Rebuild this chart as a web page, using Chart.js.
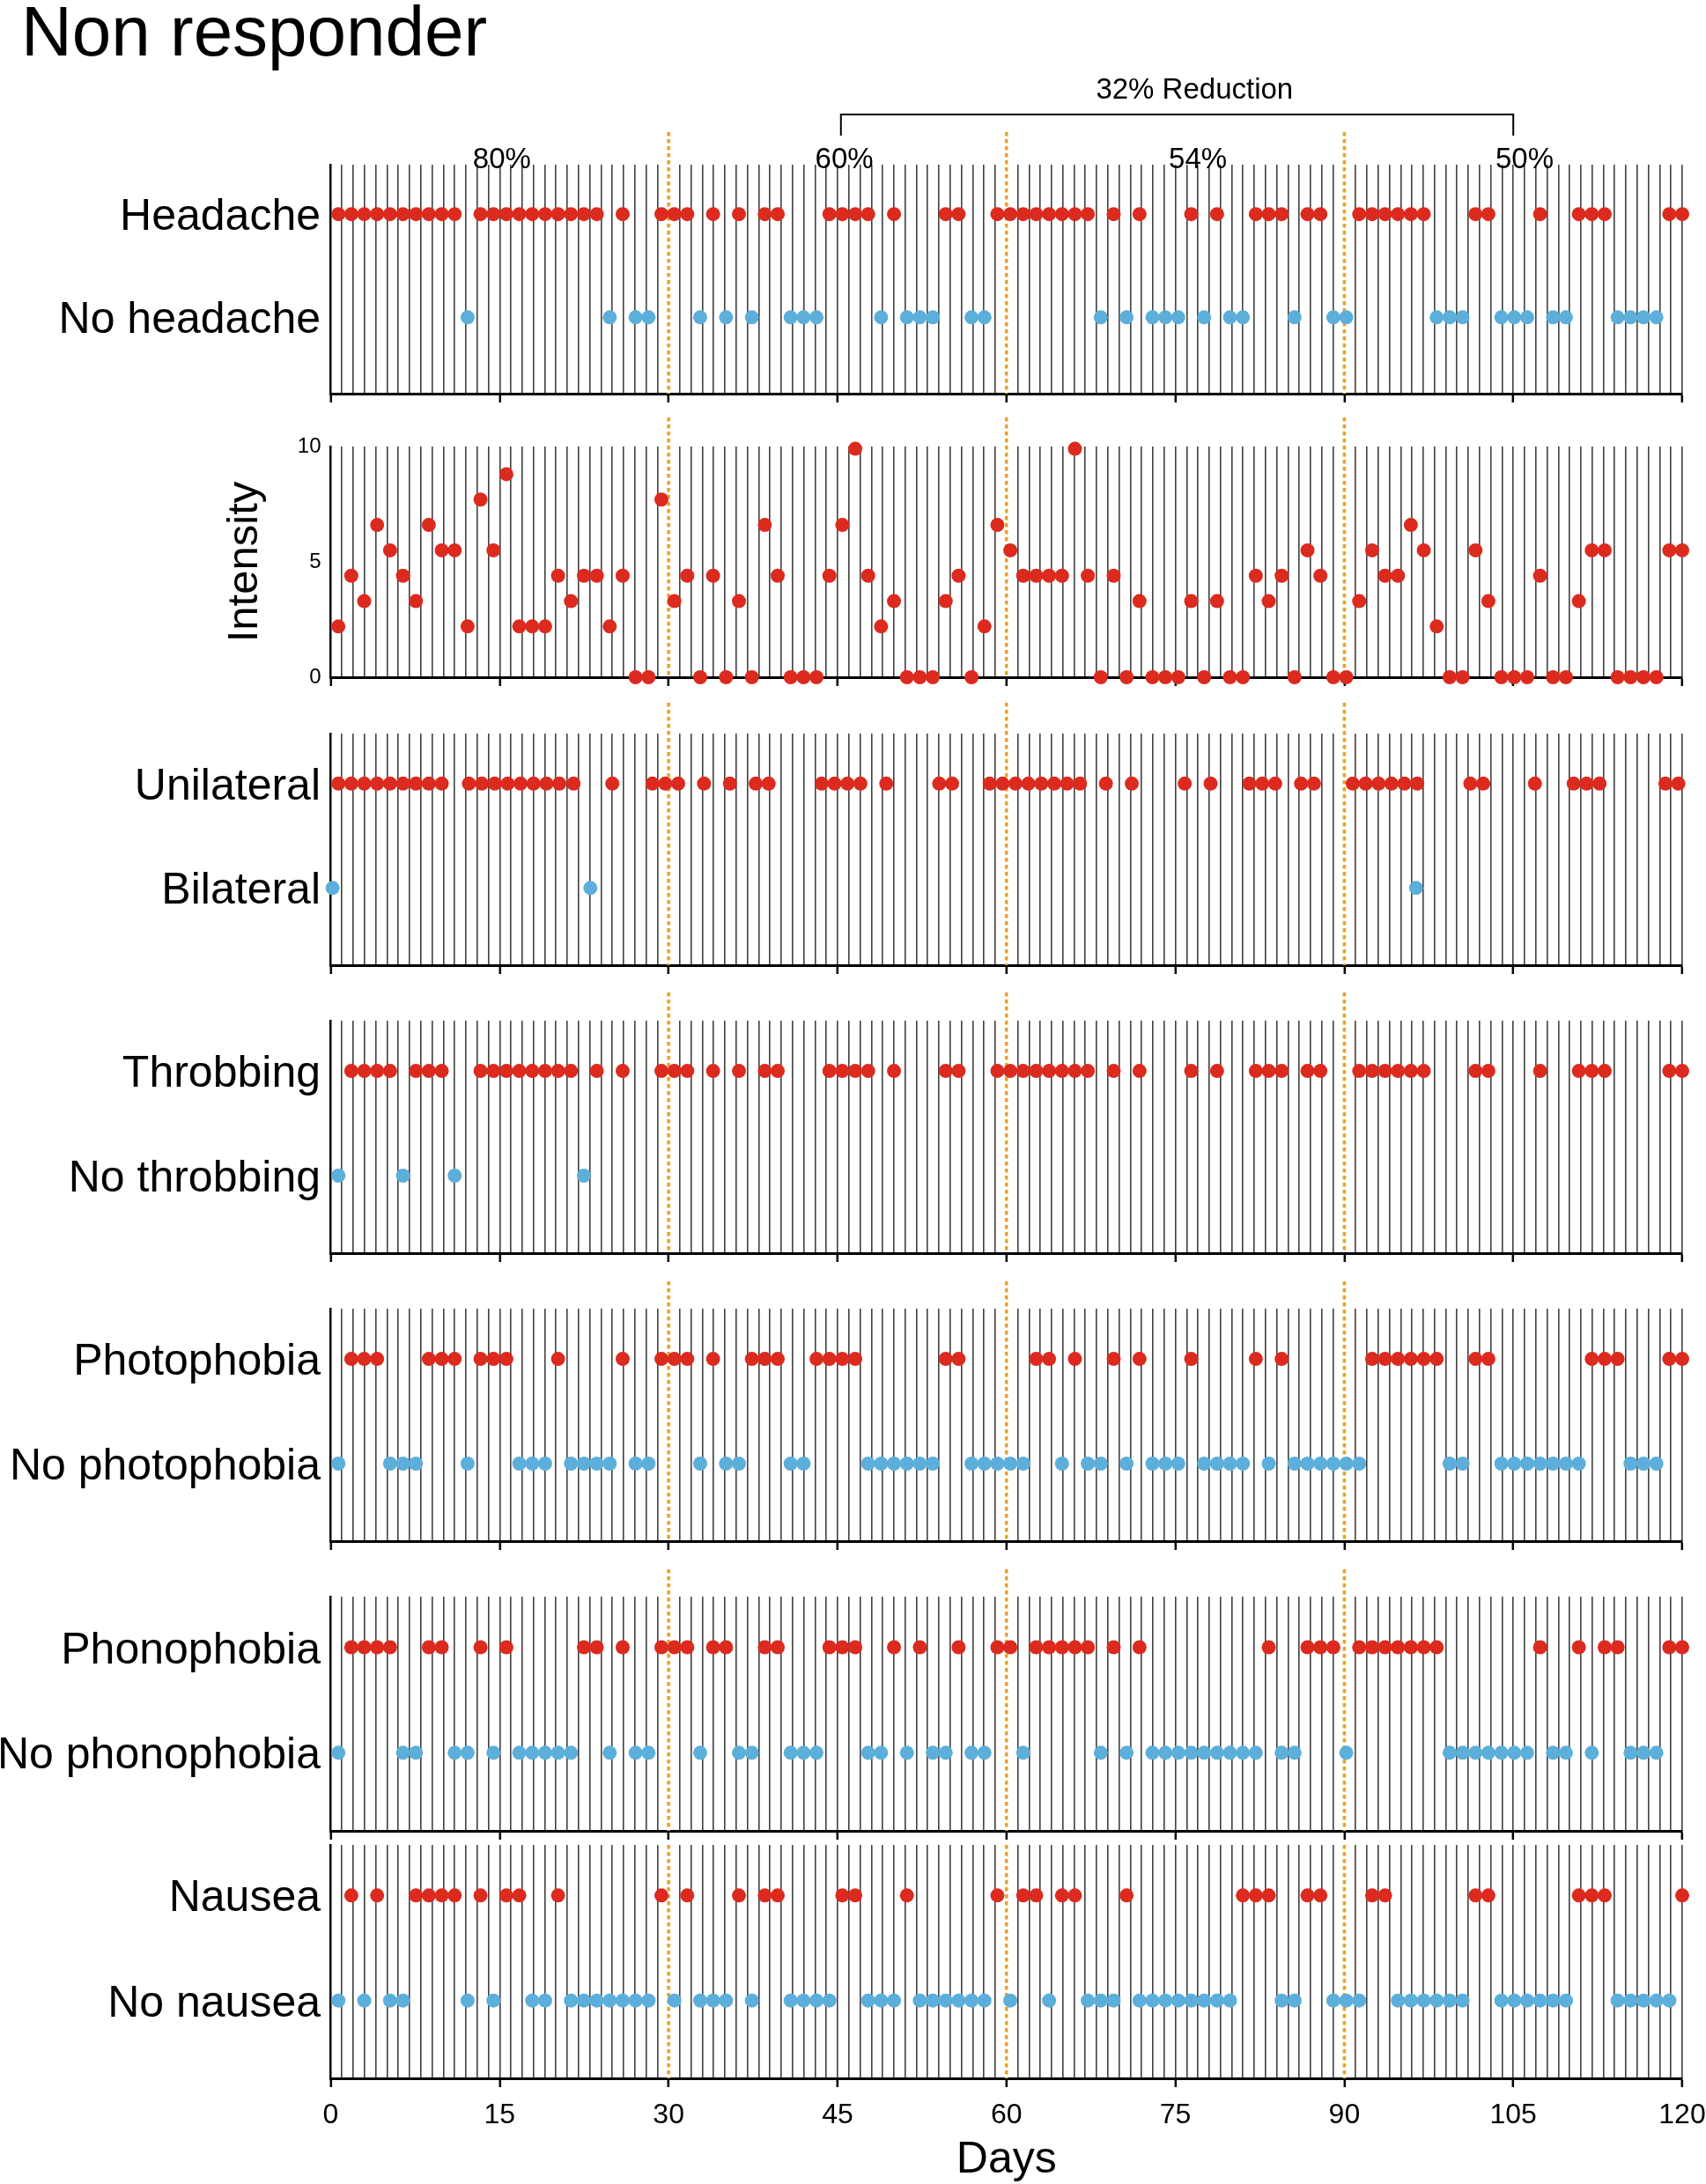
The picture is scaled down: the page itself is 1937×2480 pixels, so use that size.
<!DOCTYPE html>
<html>
<head>
<meta charset="utf-8">
<script src="https://cdn.jsdelivr.net/npm/chart.js@4.4.0/dist/chart.umd.min.js"></script>
<style>
    body { margin: 0; background: #fff; width: 1937px; height: 2480px; position: relative; overflow: hidden; }
    .panel { position: absolute; left: 0; width: 2000px; }
</style>
</head>
<body>
<script>
// ---- data (x values are diary slots, one per recorded day) ----
const periodLabels = ["80%", "60%", "54%", "50%"];
const periodLabelDays = [15.2, 45.6, 77, 106];
const reductionText = "32% Reduction";
const reductionFrom = 45.3;
const reductionTo = 105;
const reductionLabelDay = 76.7;
const xTicks = [0, 15, 30, 45, 60, 75, 90, 105, 120];
const periodBreaks = [30, 60, 90];

const headacheYes = [0, 1, 2, 3, 4, 5, 6, 7, 8, 9, 11, 12, 13, 14, 15, 16, 17, 18, 19, 20, 22, 25, 26, 27, 29, 31, 33, 34, 38, 39, 40, 41, 43, 47, 48,
    51, 52, 53, 54, 55, 56, 57, 58, 60, 62, 66, 68, 71, 72, 73, 75, 76, 79, 80, 81, 82, 83, 84, 88, 89, 93, 96, 97, 98, 103, 104];
const headacheNo = [10, 21, 23, 24, 28, 30, 32, 35, 36, 37, 42, 44, 45, 46, 49, 50, 59, 61, 63, 64, 65, 67, 69, 70, 74, 77, 78, 85, 86, 87,
    90, 91, 92, 94, 95, 99, 100, 101, 102];

// intensity per slot 0..104
const intensity = [
    2.2, 4.4, 3.3, 6.6, 5.5, 4.4, 3.3, 6.6, 5.5, 5.5,
    2.2, 7.7, 5.5, 8.8, 2.2, 2.2, 2.2, 4.4, 3.3, 4.4,
    4.4, 2.2, 4.4, 0, 0, 7.7, 3.3, 4.4, 0, 4.4,
    0, 3.3, 0, 6.6, 4.4, 0, 0, 0, 4.4, 6.6,
    9.9, 4.4, 2.2, 3.3, 0, 0, 0, 3.3, 4.4, 0,
    2.2, 6.6, 5.5, 4.4, 4.4, 4.4, 4.4, 9.9, 4.4, 0,
    4.4, 0, 3.3, 0, 0, 0, 3.3, 0, 3.3, 0,
    0, 4.4, 3.3, 4.4, 0, 5.5, 4.4, 0, 0, 3.3,
    5.5, 4.4, 4.4, 6.6, 5.5, 2.2, 0, 0, 5.5, 3.3,
    0, 0, 0, 4.4, 0, 0, 3.3, 5.5, 5.5, 0,
    0, 0, 0, 5.5, 5.5];

const unilateral = [0, 1, 2, 3, 4, 5, 6, 7, 8, 10.1, 11.1, 12.1, 13.1, 14.1, 15.1, 16.1, 17.1, 18.2, 21.2, 24.3, 25.3, 26.3, 28.3, 30.3, 32.3, 33.3,
    37.4, 38.4, 39.4, 40.4, 42.4, 46.5, 47.5, 50.4, 51.4, 52.4, 53.4, 54.4, 55.4, 56.4, 57.4, 59.4, 61.4, 65.5, 67.5, 70.5, 71.5, 72.5,
    74.5, 75.5, 78.5, 79.5, 80.5, 81.5, 82.5, 83.5, 87.6, 88.6, 92.6, 95.6, 96.6, 97.6, 102.7, 103.7];
const bilateral = [-0.45, 19.5, 83.4];

const throbbingYes = [1, 2, 3, 4, 6, 7, 8, 11, 12, 13, 14, 15, 16, 17, 18, 20, 22, 25, 26, 27, 29, 31, 33, 34, 38, 39, 40, 41, 43, 47, 48,
    51, 52, 53, 54, 55, 56, 57, 58, 60, 62, 66, 68, 71, 72, 73, 75, 76, 79, 80, 81, 82, 83, 84, 88, 89, 93, 96, 97, 98, 103, 104];
const throbbingNo = [0, 5, 9, 19];

const photoYes = [1, 2, 3, 7, 8, 9, 11, 12, 13, 17, 22, 25, 26, 27, 29, 32, 33, 34, 37, 38, 39, 40, 47, 48, 54, 55, 57, 60, 62, 66, 71, 73,
    80, 81, 82, 83, 84, 85, 88, 89, 97, 98, 99, 103, 104];
const photoNo = [0, 4, 5, 6, 10, 14, 15, 16, 18, 19, 20, 21, 23, 24, 28, 30, 31, 35, 36, 41, 42, 43, 44, 45, 46, 49, 50, 51, 52, 53, 56, 58,
    59, 61, 63, 64, 65, 67, 68, 69, 70, 72, 74, 75, 76, 77, 78, 79, 86, 87, 90, 91, 92, 93, 94, 95, 96, 100, 101, 102];

const phonoYes = [1, 2, 3, 4, 7, 8, 11, 13, 19, 20, 22, 25, 26, 27, 29, 30, 33, 34, 38, 39, 40, 43, 45, 48, 51, 52, 54, 55, 56, 57, 58, 60, 62,
    72, 75, 76, 77, 79, 80, 81, 82, 83, 84, 85, 93, 96, 98, 99, 103, 104];
const phonoNo = [0, 5, 6, 9, 10, 12, 14, 15, 16, 17, 18, 21, 23, 24, 28, 31, 32, 35, 36, 37, 41, 42, 44, 46, 47, 49, 50, 53, 59, 61, 63, 64,
    65, 66, 67, 68, 69, 70, 71, 73, 74, 78, 86, 87, 88, 89, 90, 91, 92, 94, 95, 97, 100, 101, 102];

const nauseaYes = [1, 3, 6, 7, 8, 9, 11, 13, 14, 17, 25, 27, 31, 33, 34, 39, 40, 44, 51, 53, 54, 56, 57, 61, 70, 71, 72, 75, 76, 80, 81, 88, 89,
    96, 97, 98, 104];
const nauseaNo = [0, 2, 4, 5, 10, 12, 15, 16, 18, 19, 20, 21, 22, 23, 24, 26, 28, 29, 30, 32, 35, 36, 37, 38, 41, 42, 43, 45, 46, 47, 48, 49,
    50, 52, 55, 58, 59, 60, 62, 63, 64, 65, 66, 67, 68, 69, 73, 74, 77, 78, 79, 82, 83, 84, 85, 86, 87, 90, 91, 92, 93, 94, 95, 99, 100, 101,
    102, 103];

// ---- style ----
const RED = "#dc2a1e";
const BLUE = "#5cafda";
const ORANGE = "#f0a020";
const LINE = "#404040";
const FONT = '"Liberation Sans", Arial, sans-serif';
const CANVAS_W = 2000;
const AXIS_LEFT = 375.5;
const AXIS_RIGHT = 1910;

const panels = [
    { top: 187, bottom: 447, ext: 37, labels: ["Headache", "No headache"], yes: headacheYes, no: headacheNo, first: true },
    { top: 507, bottom: 769, ext: 33, intensity: true },
    { top: 833, bottom: 1096, ext: 35, labels: ["Unilateral", "Bilateral"], yes: unilateral, no: bilateral },
    { top: 1159, bottom: 1423, ext: 32, labels: ["Throbbing", "No throbbing"], yes: throbbingYes, no: throbbingNo },
    { top: 1486, bottom: 1750, ext: 31, labels: ["Photophobia", "No photophobia"], yes: photoYes, no: photoNo },
    { top: 1813, bottom: 2079, ext: 31, labels: ["Phonophobia", "No phonophobia"], yes: phonoYes, no: phonoNo },
    { top: 2095, bottom: 2360, ext: 0, labels: ["Nausea", "No nausea"], yes: nauseaYes, no: nauseaNo, last: true },
];

const periodLines = {
    id: "periodLines",
    beforeDatasetsDraw(chart, args, opts) {
        const { ctx, chartArea, scales } = chart;
        ctx.save();
        ctx.strokeStyle = ORANGE;
        ctx.lineWidth = 3.5;
        ctx.setLineDash([4.5, 3.5]);
        periodBreaks.forEach((d) => {
            const x = scales.x.getPixelForValue(d);
            ctx.beginPath();
            ctx.moveTo(x, chartArea.top - opts.ext);
            ctx.lineTo(x, chartArea.bottom);
            ctx.stroke();
        });
        ctx.restore();
    },
};

const panelText = {
    id: "panelText",
    afterDraw(chart, args, opts) {
        const { ctx, scales } = chart;
        const p = opts.panel;
        ctx.save();
        ctx.fillStyle = "#000";
        if (p.labels) {
            ctx.font = "50px " + FONT;
            ctx.textAlign = "right";
            ctx.textBaseline = "alphabetic";
            ctx.fillText(p.labels[0], 364, scales.y.getPixelForValue(1) + 18);
            ctx.fillText(p.labels[1], 364, scales.y.getPixelForValue(0) + 18);
        }
        if (p.intensity) {
            ctx.font = "49px " + FONT;
            ctx.textAlign = "center";
            ctx.textBaseline = "middle";
            ctx.translate(278, (chart.chartArea.top + chart.chartArea.bottom) / 2);
            ctx.rotate(-Math.PI / 2);
            ctx.fillText("Intensity", 0, 0);
            ctx.setTransform(1, 0, 0, 1, 0, 0);
        }
        if (p.first) {
            const x = scales.x;
            ctx.font = "80px " + FONT;
            ctx.textAlign = "left";
            ctx.fillText("Non responder", 24, 63);
            ctx.font = "33px " + FONT;
            ctx.textAlign = "center";
            ctx.fillText(reductionText, x.getPixelForValue(reductionLabelDay), 112);
            periodLabels.forEach((t, i) => ctx.fillText(t, x.getPixelForValue(periodLabelDays[i]), 191));
            const x1 = x.getPixelForValue(reductionFrom);
            const x2 = x.getPixelForValue(reductionTo);
            ctx.strokeStyle = "#000";
            ctx.lineWidth = 2;
            ctx.beginPath();
            ctx.moveTo(x1, 154);
            ctx.lineTo(x1, 130);
            ctx.lineTo(x2, 130);
            ctx.lineTo(x2, 154);
            ctx.stroke();
        }
        if (p.last) {
            ctx.font = "50px " + FONT;
            ctx.textAlign = "center";
            ctx.fillText("Days", scales.x.getPixelForValue(60), chart.height - 13);
        }
        ctx.restore();
    },
};

function pts(list, y) {
    return list.map((s) => ({ x: s, y: y }));
}

function dotSet(data, color) {
    return {
        data: data,
        xAxisID: "s",
        yAxisID: "y",
        backgroundColor: color,
        borderWidth: 0,
        pointRadius: 8,
        pointHoverRadius: 8,
        clip: false,
    };
}

panels.forEach((p) => {
    const padTop = p.first ? p.top : 40;
    const xh = p.last ? 120 : 30;
    const h = padTop + (p.bottom - p.top) + xh;
    const div = document.createElement("div");
    div.className = "panel";
    div.style.top = p.top - padTop + "px";
    div.style.height = h + "px";
    const canvas = document.createElement("canvas");
    canvas.width = CANVAS_W;
    canvas.height = h;
    canvas.style.width = CANVAS_W + "px";
    canvas.style.height = h + "px";
    div.appendChild(canvas);
    document.body.appendChild(div);

    let datasets;
    if (p.intensity) {
        datasets = [dotSet(intensity.map((v, i) => ({ x: i, y: v })), RED)];
    } else {
        datasets = [dotSet(pts(p.yes, 1), RED), dotSet(pts(p.no, 0), BLUE)];
    }

    new Chart(canvas, {
        type: "scatter",
        data: { datasets: datasets },
        options: {
            responsive: false,
            animation: false,
            events: [],
            layout: { padding: { top: padTop, right: CANVAS_W - AXIS_RIGHT, bottom: 0, left: 0 } },
            plugins: {
                legend: { display: false },
                tooltip: { enabled: false },
                periodLines: { ext: p.ext },
                panelText: { panel: p },
            },
            scales: {
                x: {
                    type: "linear",
                    min: 0,
                    max: 120,
                    afterBuildTicks: (scale) => {
                        const t = [];
                        for (let d = 0; d <= 120; d++) t.push({ value: d });
                        scale.ticks = t;
                    },
                    afterFit: (scale) => {
                        scale.height = xh;
                    },
                    ticks: {
                        autoSkip: false,
                        maxRotation: 0,
                        padding: 13,
                        color: "#000",
                        font: { family: FONT, size: 32 },
                        callback: (v) => (p.last && xTicks.includes(v) ? String(v) : ""),
                    },
                    grid: {
                        color: (c) => (c.tick && c.tick.value > 0 && !periodBreaks.includes(c.tick.value) ? LINE : "rgba(0,0,0,0)"),
                        lineWidth: 1.6,
                        drawTicks: true,
                        tickLength: 10,
                        tickWidth: 2.5,
                        tickColor: (c) => (c.tick && xTicks.includes(c.tick.value) ? "#000" : "rgba(0,0,0,0)"),
                    },
                    border: { display: true, color: "#000", width: 3 },
                },
                s: {
                    type: "linear",
                    display: false,
                    min: -0.593,
                    max: 104,
                },
                y: {
                    type: "linear",
                    min: p.intensity ? 0 : -0.74,
                    max: p.intensity ? 10 : 1.48,
                    afterFit: (scale) => {
                        scale.width = AXIS_LEFT;
                    },
                    ticks: {
                        display: !!p.intensity,
                        stepSize: 5,
                        padding: 11,
                        color: "#000",
                        font: { family: FONT, size: 24 },
                    },
                    grid: { display: false, drawTicks: false },
                    border: { display: true, color: "#000", width: 2.5 },
                },
            },
        },
        plugins: [periodLines, panelText],
    });
});
</script>
</body>
</html>
